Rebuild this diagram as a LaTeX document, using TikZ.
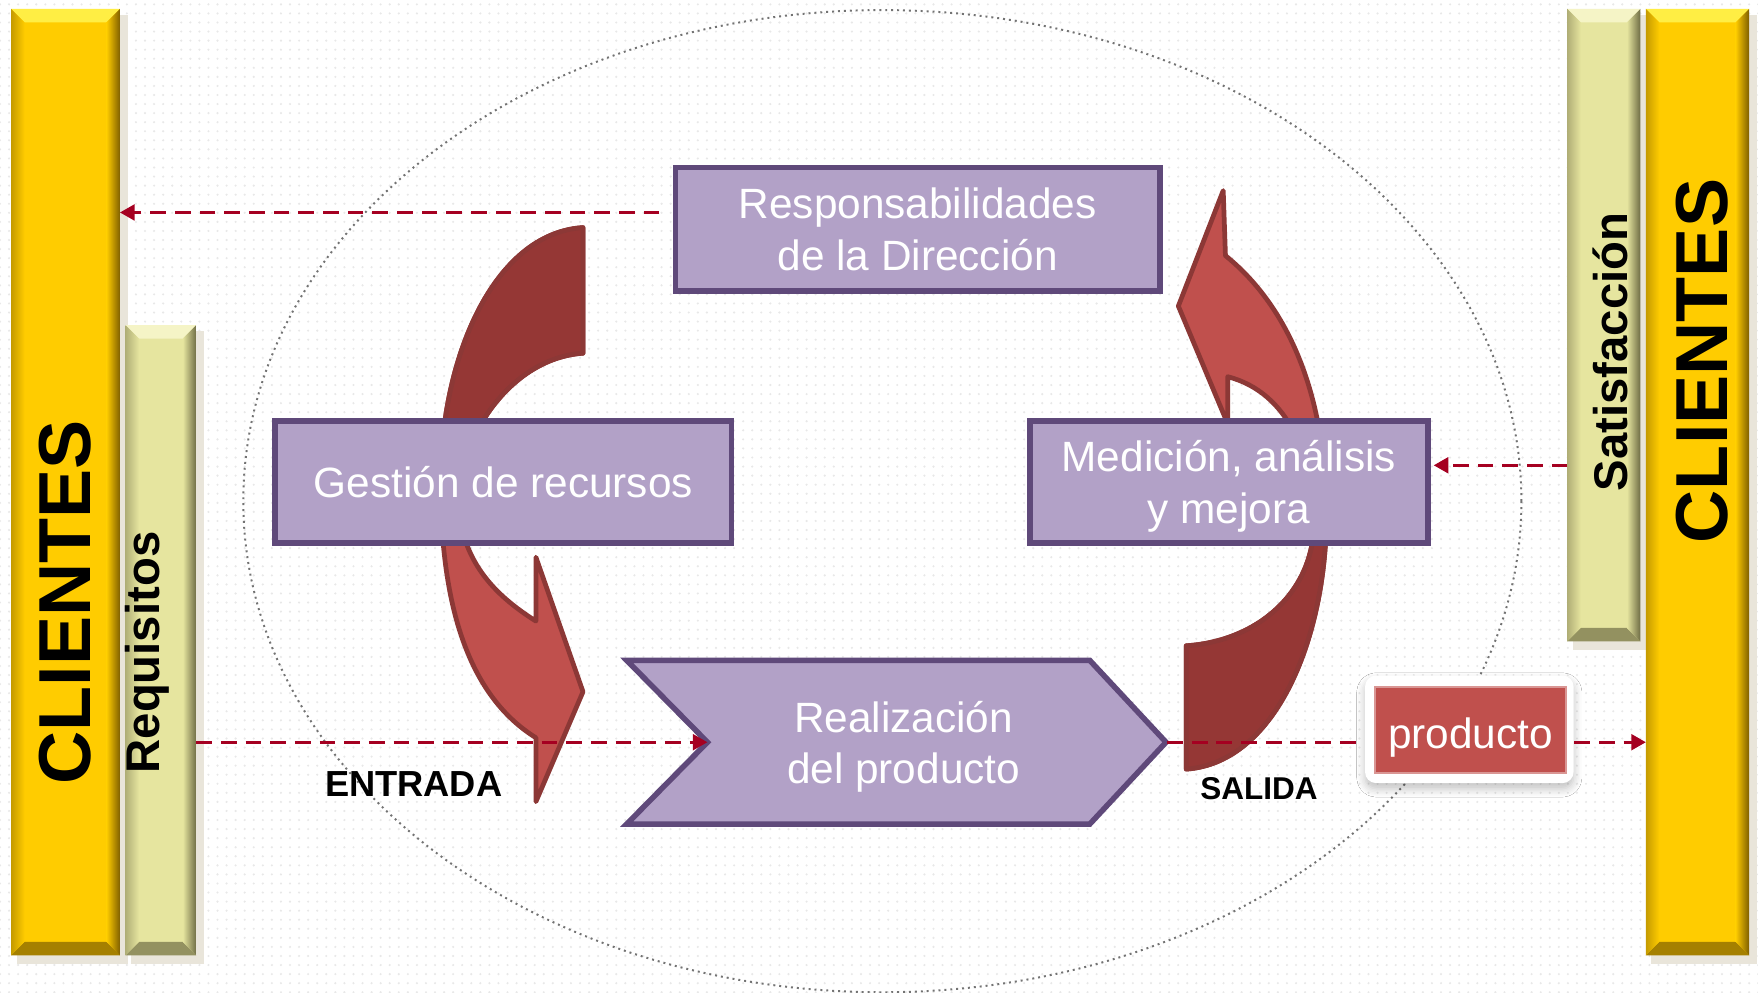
\documentclass[tikz,border=0pt]{standalone}
\usepackage{fontspec}
\setmainfont{Liberation Sans}
\usetikzlibrary{arrows.meta,calc,patterns.meta,shadows.blur}
\usepackage{xcolor}

\definecolor{gold}{HTML}{FFCC00}
\definecolor{goldlight}{HTML}{FFEE44}
\definecolor{golddark}{HTML}{7F5F00}
\definecolor{pale}{HTML}{E6E59F}
\definecolor{palelight}{HTML}{F5F4C6}
\definecolor{paledark}{HTML}{6F6D45}
\definecolor{barshadow}{HTML}{E9E5DA}
\definecolor{lilac}{HTML}{B2A1C7}
\definecolor{plum}{HTML}{5F497A}
\definecolor{brick}{HTML}{C0504D}
\definecolor{brickdark}{HTML}{953735}
\definecolor{brickline}{HTML}{8C3836}
\definecolor{crimson}{HTML}{A50021}

\tikzset{
	procbox/.style={draw=plum, fill=lilac, line width=1.4pt, text=white, align=center,
		font=\fontsize{10.75}{13.1}\selectfont, inner sep=0pt},
	flow/.style={draw=crimson, line width=0.75pt, dash pattern=on 1.4mm off 0.8mm,
		-{Triangle[length=1.3mm,width=1.4mm]}},
	bandlight/.style={fill=brick, draw=brickline, line width=1.2pt, line join=round},
	banddark/.style={fill=brickdark, draw=brickline, line width=1.2pt, line join=round},
	bartext/.style={rotate=90, font=\bfseries\fontsize{12}{12}\selectfont},
	clitext/.style={rotate=90, font=\bfseries\fontsize{18.7}{18.7}\selectfont},
}

% bevelled bar: x1, y1, x2, y2, base, light, dark
\newcommand\bevelbar[7]{%
	\fill[barshadow] (#1+5,#2+5) rectangle (#3+7,#4+8);
	\fill[#5] (#1,#2) rectangle (#3,#4);
	\fill[#6] (#1,#2) -- (#3,#2) -- (#3-12,#2+12) -- (#1+12,#2+12) -- cycle;
	\fill[#7!70!#5] (#1,#4) -- (#3,#4) -- (#3-12,#4-12) -- (#1+12,#4-12) -- cycle;
	\shade[left color=#5, right color=#7] (#3-12,#2+12) -- (#3,#2) -- (#3,#4) -- (#3-12,#4-12) -- cycle;
	\shade[left color=#7!45!#5, right color=#5] (#1,#2) -- (#1+12,#2+12) -- (#1+12,#4-12) -- (#1,#4) -- cycle;
}

\begin{document}
\begin{tikzpicture}[x=0.1mm, y=-0.1mm]
				% Background and frame:
				\useasboundingbox (0,0) rectangle (1568,885);
				\fill[white] (0,0) rectangle (1568,885);
				\fill[pattern={Dots[radius=0.3pt,distance=2.3pt]}, pattern color=black!9] (0,0) rectangle (1568,885);
				\draw[black!55, densely dotted, line width=0.5pt] (787,447) ellipse [x radius=570, y radius=438];
				% Side bars:
				\bevelbar{10}{8}{107}{852}{gold}{goldlight}{golddark}
				\bevelbar{112}{290}{175}{852}{pale}{palelight}{paledark}
				\bevelbar{1398}{8}{1463}{572}{pale}{palelight}{paledark}
				\bevelbar{1468}{8}{1560}{852}{gold}{goldlight}{golddark}
				\node[clitext] (cliL) at (58,537) {CLIENTES};
				\node[clitext] (cliR) at (1518,322) {CLIENTES};
				\node[bartext] (req) at (131,582) {Requisitos};
				\node[bartext] (sat) at (1436,314) {Satisfacción};
				\coordinate (cliLedge) at (107,0);
				\coordinate (reqedge) at (175,0);
				\coordinate (satedge) at (1398,0);
				\coordinate (cliRedge) at (1468,0);
				% Curved arrows:
				\path[save path=\bandL] (520,203) .. controls (440,208) and (393,320) .. (393,430)
					.. controls (393,555) and (425,625) .. (478,658) -- (478,715) -- (520,617) -- (478,497) -- (478,554)
					.. controls (440,530) and (412,500) .. (409,450) .. controls (406,400) and (450,320) .. (520,315) -- cycle;
				\path[bandlight, use path=\bandL];
				\begin{scope}
					\clip (0,0) rectangle (1568,430);
					\path[banddark, use path=\bandL];
				\end{scope}
				\path[save path=\bandR] (1058,686) .. controls (1140,680) and (1183,565) .. (1183,460)
					.. controls (1183,345) and (1145,270) .. (1093,228) -- (1091,170) -- (1051,273) -- (1095,378) -- (1095,336)
					.. controls (1150,350) and (1172,410) .. (1172,465) .. controls (1172,530) and (1120,572) .. (1058,576) -- cycle;
				\path[bandlight, use path=\bandR];
				\begin{scope}
					\clip (0,430) rectangle (1568,885);
					\path[banddark, use path=\bandR];
				\end{scope}
				% Process boxes:
				\node[procbox, minimum width=43.2mm, minimum height=11mm] (resp) at (818.5,204.5) {Responsabilidades\\de la Dirección};
				\node[procbox, minimum width=40.7mm, minimum height=10.9mm] (gest) at (449,430) {Gestión de recursos};
				\node[procbox, minimum width=35.5mm, minimum height=10.9mm, text depth=0pt] (medi) at (1096,430) {Medición, análisis\\y mejora};
				\draw[draw=plum, fill=lilac, line width=1.4pt] (559,589) -- (972,589) -- (1040,662) -- (972,735) -- (559,735) -- (631,662) -- cycle;
				\coordinate (notch) at (631,662);
				\coordinate (tip) at (1041,662);
				\node[text=white, align=center, font=\fontsize{10.75}{13.1}\selectfont] (real) at (806,666) {Realización\\del producto};
				\node[fill=white, rounded corners=1mm, minimum width=18.6mm, minimum height=9.6mm,
					blur shadow={shadow xshift=0pt, shadow yshift=-0.5mm, shadow blur steps=6, shadow opacity=25}] (prod) at (1310.5,650.5) {};
				\node[fill=brick, draw=brick!60!white, line width=0.5pt, minimum width=17mm, minimum height=7.7mm] (prodbox) at (1311.5,651) {};
				\node[text=white, font=\fontsize{10.75}{12.8}\selectfont] (prodtxt) at (1311.5,658) {producto};
				% Flows:
				\coordinate (respout) at ([xshift=-1.2mm, yshift=1.5mm]resp.west);
				\draw[flow] (respout) -- (cliLedge |- respout);
				\draw[flow] (reqedge |- notch) -- (notch);
				\draw[flow, -] (tip) -- (prod.west |- tip);
				\draw[flow] (prod.east |- tip) -- (cliRedge |- tip);
				\coordinate (satout) at (satedge |- 0,415);
				\draw[flow] (satout) -- ([xshift=0.8pt]medi.east |- satout);
				\node[font=\bfseries\fontsize{9.2}{9.2}\selectfont] (entrada) at (369,699) {ENTRADA};
				\node[font=\bfseries\fontsize{8}{8}\selectfont] (salida) at (1123,703) {SALIDA};
\end{tikzpicture}
\end{document}
